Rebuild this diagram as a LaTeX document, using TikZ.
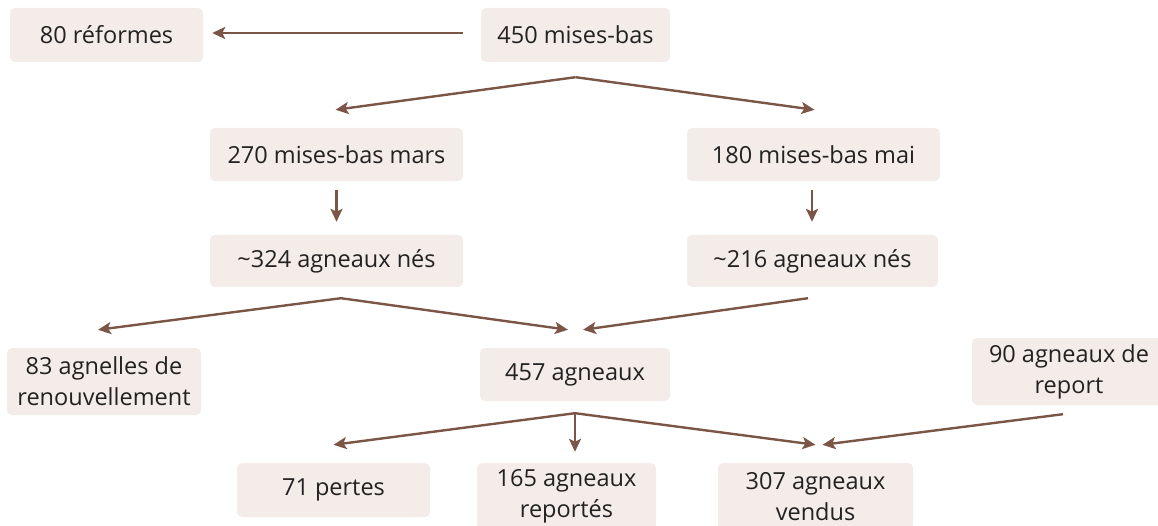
\documentclass[tikz,border=0pt]{standalone}
\usepackage{fontspec}
\setmainfont{Open Sans}
\usetikzlibrary{arrows.meta,calc}
\definecolor{boxfill}{HTML}{F3ECE8}
\definecolor{arrowc}{HTML}{7B5647}
\definecolor{txt}{HTML}{222222}

\begin{document}
\begin{tikzpicture}[x=1pt,y=-1pt,
  box/.style={fill=boxfill, rounded corners=5pt, inner sep=0pt, text=txt,
    font=\fontsize{23.5}{31}\selectfont, align=center},
  flow/.style={draw=arrowc, line width=2.4pt,
    -{Stealth[length=13pt,width=12pt,inset=3pt]}}]
\useasboundingbox (0,0) rectangle (1158,526);

% boxes
\node[box, minimum width=193pt, minimum height=54pt] (n80)  at (106.5,35)  {80 réformes};
\node[box, minimum width=189pt, minimum height=54pt] (n450) at (575.5,35)  {450 mises-bas};
\node[box, minimum width=253pt, minimum height=53pt] (n270) at (336.5,154.5) {270 mises-bas mars};
\node[box, minimum width=253pt, minimum height=53pt] (n180) at (813.5,154.5) {180 mises-bas mai};
\node[box, minimum width=253pt, minimum height=52pt] (n324) at (336.5,261) {\textasciitilde324 agneaux nés};
\node[box, minimum width=251pt, minimum height=52pt] (n216) at (812.5,261) {\textasciitilde216 agneaux nés};
\node[box, minimum width=194pt, minimum height=67pt] (n83)  at (104,381.5) {83 agnelles de\\renouvellement};
\node[box, minimum width=190pt, minimum height=53pt] (n457) at (575,374.5) {457 agneaux};
\node[box, minimum width=194pt, minimum height=67pt] (n90)  at (1069,371.5) {90 agneaux de\\report};
\node[box, minimum width=193pt, minimum height=54pt] (n71)  at (333.5,490) {71 pertes};
\node[box, minimum width=179pt, minimum height=67pt] (n165) at (566.5,496.5) {165 agneaux\\reportés};
\node[box, minimum width=195pt, minimum height=67pt] (n307) at (815.5,496.5) {307 agneaux\\vendus};

% connector end points
\coordinate (s450w) at ($(n450.west)+(-18,-2)$);
\coordinate (t80)   at ($(n80.east)+(9,-2)$);
\coordinate (s450)  at ($(n450.south)+(0,15)$);
\coordinate (t270)  at ($(n270.north)+(-1,-18)$);
\coordinate (t180)  at ($(n180.north)+(1,-18)$);
\coordinate (s270)  at ($(n270.south)+(0,9)$);
\coordinate (t324)  at ($(n324.north)+(0,-13)$);
\coordinate (s180)  at ($(n180.south)+(-1.5,9)$);
\coordinate (t216)  at ($(n216.north)+(-0.5,-13)$);
\coordinate (s324)  at ($(n324.south)+(4.5,11)$);
\coordinate (s216)  at ($(n216.south)+(-4.5,11)$);
\coordinate (t83)   at ($(n83.north)+(-6,-18)$);
\coordinate (t457a) at ($(n457.north)+(-7,-18)$);
\coordinate (t457b) at ($(n457.north)+(8,-18)$);
\coordinate (s90)   at ($(n90.south)+(-6,9)$);
\coordinate (s457)  at ($(n457.south)+(0,12)$);
\coordinate (t71)   at ($(n71.north)+(0,-18)$);
\coordinate (t165)  at ($(n165.north)+(8.5,-11)$);
\coordinate (t307a) at ($(n307.north)+(0,-18)$);
\coordinate (t307b) at ($(n307.north)+(7,-18)$);

% connectors
\draw[flow] (s450w) -- (t80);
\draw[flow] (s450) -- (t270);
\draw[flow] (s450) -- (t180);
\draw[flow] (s270) -- (t324);
\draw[flow] (s180) -- (t216);
\draw[flow] (s324) -- (t83);
\draw[flow] (s324) -- (t457a);
\draw[flow] (s216) -- (t457b);
\draw[flow] (s90) -- (t307b);
\draw[flow] (s457) -- (t71);
\draw[flow] (s457) -- (t165);
\draw[flow] (s457) -- (t307a);
\end{tikzpicture}
\end{document}
